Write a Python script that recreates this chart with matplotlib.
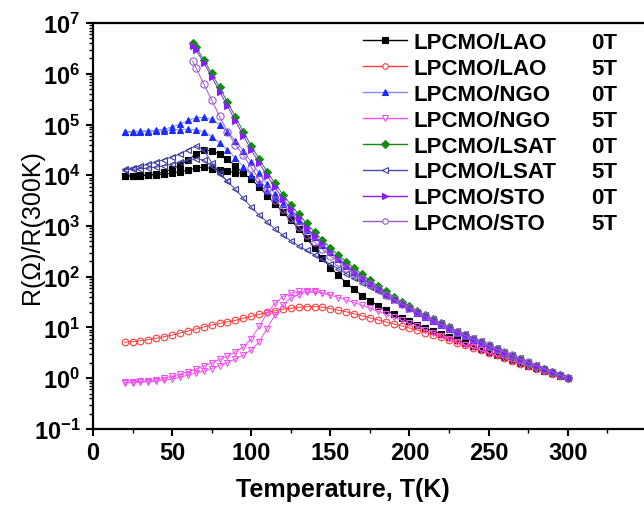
import matplotlib
matplotlib.use('Agg')
import matplotlib.pyplot as plt
import numpy as np
from matplotlib.ticker import LogLocator, FuncFormatter, NullFormatter
from matplotlib.lines import Line2D

# ---------------- data (values read as log10 of R/R(300K)) ----------------
T_full = list(range(20, 301, 5))              # 20 ... 300 K
T_steep = [63] + list(range(65, 301, 5))      # curves that start near 63 K

lao_0T_a = [3.99, 3.99, 4.00, 4.01, 4.03, 4.07, 4.12, 4.20, 4.30, 4.42,
            4.50, 4.48, 4.42, 4.32, 4.18, 4.04, 3.92, 3.77, 3.60, 3.44,
            3.28, 3.11, 2.95, 2.76, 2.56, 2.36, 2.18, 2.03, 1.88, 1.75,
            1.63, 1.53, 1.43, 1.35, 1.27, 1.19, 1.12, 1.05, 0.99, 0.93,
            0.87, 0.81, 0.75, 0.69, 0.63, 0.57, 0.52, 0.46, 0.41, 0.35,
            0.30, 0.25, 0.20, 0.15, 0.10, 0.05, 0.00]
T_lao_0T_b = list(range(20, 96, 5))
lao_0T_b = [3.98, 3.99, 3.99, 4.00, 4.01, 4.02, 4.04, 4.07, 4.10, 4.14,
            4.16, 4.13, 4.10, 4.08, 4.05, 4.04]

lao_5T = [0.71, 0.72, 0.74, 0.76, 0.79, 0.82, 0.85, 0.89, 0.93, 0.97,
          1.01, 1.05, 1.08, 1.11, 1.14, 1.18, 1.22, 1.26, 1.30, 1.33,
          1.36, 1.38, 1.40, 1.41, 1.41, 1.40, 1.37, 1.34, 1.31, 1.27,
          1.23, 1.19, 1.15, 1.11, 1.07, 1.03, 0.99, 0.95, 0.90, 0.86,
          0.81, 0.76, 0.70, 0.65, 0.60, 0.55, 0.50, 0.45, 0.40, 0.34,
          0.29, 0.24, 0.19, 0.14, 0.09, 0.05, 0.00]

ngo_0T_a = [4.86, 4.86, 4.87, 4.88, 4.89, 4.91, 4.95, 5.01, 5.08, 5.13,
            5.14, 5.10, 5.00, 4.86, 4.68, 4.48, 4.26, 4.04, 3.83, 3.63,
            3.44, 3.26, 3.09, 2.93, 2.78, 2.63, 2.49, 2.35, 2.22, 2.10,
            1.98, 1.87, 1.76, 1.66, 1.56, 1.47, 1.38, 1.29, 1.21, 1.13,
            1.05, 0.97, 0.90, 0.83, 0.76, 0.69, 0.63, 0.56, 0.50, 0.43,
            0.37, 0.31, 0.25, 0.18, 0.12, 0.06, 0.00]
T_ngo_0T_b = list(range(20, 121, 5))
ngo_0T_b = [4.85, 4.85, 4.86, 4.86, 4.87, 4.88, 4.89, 4.90, 4.91, 4.90,
            4.86, 4.76, 4.64, 4.50, 4.34, 4.17, 4.00, 3.84, 3.68, 3.55,
            3.44]

ngo_5T_a = [-0.08, -0.07, -0.06, -0.05, -0.03, 0.00, 0.04, 0.08, 0.13, 0.18,
            0.24, 0.30, 0.37, 0.44, 0.52, 0.62, 0.78, 1.02, 1.28, 1.48,
            1.61, 1.68, 1.71, 1.72, 1.71, 1.68, 1.64, 1.59, 1.54, 1.49,
            1.44, 1.38, 1.32, 1.26, 1.20, 1.14, 1.08, 1.02, 0.96, 0.90,
            0.84, 0.78, 0.72, 0.66, 0.61, 0.55, 0.50, 0.45, 0.40, 0.34,
            0.29, 0.24, 0.19, 0.14, 0.09, 0.05, 0.00]
T_ngo_5T_b = list(range(20, 151, 5))
ngo_5T_b = [-0.09, -0.09, -0.08, -0.07, -0.06, -0.04, -0.01, 0.02, 0.06, 0.10,
            0.14, 0.19, 0.25, 0.31, 0.38, 0.46, 0.56, 0.72, 0.98, 1.25,
            1.45, 1.58, 1.65, 1.69, 1.70, 1.68, 1.64]

lsat_0T = [6.60, 6.52, 6.28, 6.01, 5.73, 5.44, 5.15, 4.86, 4.58, 4.32,
           4.07, 3.84, 3.62, 3.42, 3.23, 3.05, 2.88, 2.72, 2.57, 2.43,
           2.30, 2.17, 2.05, 1.93, 1.82, 1.71, 1.61, 1.51, 1.42, 1.33,
           1.24, 1.16, 1.08, 1.00, 0.92, 0.85, 0.78, 0.71, 0.64, 0.57,
           0.50, 0.44, 0.37, 0.31, 0.25, 0.19, 0.12, 0.06, 0.00]

lsat_5T_a = [4.12, 4.15, 4.18, 4.22, 4.26, 4.31, 4.36, 4.42, 4.50, 4.58,
             4.50, 4.25, 4.05, 3.88, 3.72, 3.55, 3.37, 3.22, 3.08, 2.94,
             2.82, 2.71, 2.61, 2.52, 2.43, 2.34, 2.25, 2.16, 2.06, 1.97,
             1.88, 1.79, 1.71, 1.63, 1.55, 1.47, 1.39, 1.31, 1.24, 1.16,
             1.09, 1.01, 0.94, 0.87, 0.80, 0.73, 0.66, 0.59, 0.52, 0.45,
             0.39, 0.32, 0.26, 0.19, 0.13, 0.06, 0.00]
T_lsat_5T_b = list(range(20, 86, 5))
lsat_5T_b = [4.11, 4.12, 4.13, 4.14, 4.16, 4.19, 4.22, 4.26, 4.30, 4.33,
             4.30, 4.18, 4.02, 3.88]

sto_0T = [6.55, 6.47, 6.22, 5.94, 5.65, 5.36, 5.07, 4.78, 4.50, 4.24,
          3.99, 3.76, 3.54, 3.34, 3.15, 2.97, 2.80, 2.64, 2.49, 2.35,
          2.22, 2.09, 1.97, 1.86, 1.75, 1.65, 1.55, 1.46, 1.37, 1.28,
          1.20, 1.12, 1.04, 0.97, 0.90, 0.83, 0.76, 0.69, 0.62, 0.56,
          0.49, 0.43, 0.36, 0.30, 0.24, 0.18, 0.12, 0.06, 0.00]

sto_5T = [6.25, 6.12, 5.80, 5.48, 5.16, 4.86, 4.60, 4.40, 4.15, 3.92,
          3.72, 3.52, 3.33, 3.15, 2.98, 2.82, 2.68, 2.54, 2.41, 2.29,
          2.17, 2.06, 1.95, 1.85, 1.75, 1.65, 1.56, 1.47, 1.38, 1.30,
          1.22, 1.14, 1.06, 0.99, 0.92, 0.85, 0.78, 0.72, 0.65, 0.58,
          0.52, 0.45, 0.38, 0.32, 0.25, 0.19, 0.13, 0.06, 0.00]

sample_names = ["LPCMO/LAO", "LPCMO/LAO", "LPCMO/NGO", "LPCMO/NGO",
                "LPCMO/LSAT", "LPCMO/LSAT", "LPCMO/STO", "LPCMO/STO"]
field_labels = ["0T", "5T", "0T", "5T", "0T", "5T", "0T", "5T"]

# ---------------- styling ----------------
plt.rcParams['font.family'] = ['Liberation Sans', 'DejaVu Sans']
plt.rcParams['mathtext.fontset'] = 'custom'
plt.rcParams['mathtext.rm'] = 'Liberation Sans:bold'
plt.rcParams['mathtext.bf'] = 'Liberation Sans:bold'
plt.rcParams['mathtext.it'] = 'Liberation Sans:bold'

# (branches, marker, marker face, marker edge, line colour, marker size)
styles = [
    ([(T_full, lao_0T_a), (T_lao_0T_b, lao_0T_b)], 's', 'black', 'black', 'black', 4.2),
    ([(T_full, lao_5T)], 'o', 'none', '#ff3b3b', '#ff3b3b', 4.8),
    ([(T_full, ngo_0T_a), (T_ngo_0T_b, ngo_0T_b)], '^', '#1c2cff', '#1c2cff', '#7f8cff', 4.6),
    ([(T_full, ngo_5T_a), (T_ngo_5T_b, ngo_5T_b)], 'v', 'none', '#f050f0', '#f050f0', 5.0),
    ([(T_steep, lsat_0T)], 'D', '#138a13', '#138a13', '#138a13', 4.0),
    ([(T_full, lsat_5T_a), (T_lsat_5T_b, lsat_5T_b)], '<', 'none', '#3c3c9e', '#4a4ab8', 5.0),
    ([(T_steep, sto_0T)], '>', '#8a1cff', '#8a1cff', '#8a1cff', 4.6),
    ([(T_steep, sto_5T)], 'o', 'none', '#9a5ad0', '#9a5ad0', 5.2),
]

fig = plt.figure(figsize=(6.44, 5.10), dpi=100)
ax = fig.add_axes([0.1444, 0.1569, 0.860, 0.796])

handles = []
for branches, mk, mfc, mec, lc, ms in styles:
    for T, lg in branches:
        ax.plot(T, 10 ** np.array(lg), color=lc, lw=0.7, marker=mk, ms=ms,
                mfc=mfc, mec=mec, mew=0.8)
    handles.append(Line2D([], [], color=lc, lw=1.0, marker=mk, ms=4.0,
                          mfc=('white' if mfc == 'none' else mfc), mec=mec, mew=0.8))

ax.set_yscale('log')
ax.set_ylim(0.1, 1e7)
ax.set_xlim(0, 350)
ax.set_xticks(range(0, 301, 50))
ax.set_xticks(np.arange(25, 350, 50), minor=True)
ax.yaxis.set_major_locator(LogLocator(base=10, numticks=20))
ax.yaxis.set_minor_locator(LogLocator(base=10, subs=np.arange(2, 10), numticks=200))
ax.yaxis.set_minor_formatter(NullFormatter())
ax.yaxis.set_major_formatter(FuncFormatter(
    lambda v, p: r'$\mathbf{10^{%d}}$' % int(round(np.log10(v)))))

for s in ax.spines.values():
    s.set_linewidth(1.6)
ax.tick_params(which='major', direction='out', length=5, width=1.5,
               labelsize=17, pad=4)
ax.tick_params(which='minor', direction='out', length=3, width=1.0)
for lab in ax.get_xticklabels():
    lab.set_fontweight('bold')

ax.set_xlabel('Temperature, T(K)', fontsize=18, fontweight='bold')
ax.xaxis.set_label_coords(0.452, -0.118)
ax.set_ylabel('R(Ω)/R(300K)', fontsize=18)
ax.yaxis.set_label_coords(-0.088, 0.5)

leg1 = ax.legend(handles, sample_names, loc='upper left',
                 bbox_to_anchor=(0.487, 0.978), frameon=False, borderpad=0,
                 borderaxespad=0, handlelength=2.0, handletextpad=0.3,
                 labelspacing=0.22, prop={'weight': 'bold', 'size': 16})
ax.add_artist(leg1)
blank = [Line2D([], [], linestyle='none') for _ in field_labels]
ax.legend(blank, field_labels, loc='upper left',
          bbox_to_anchor=(0.900, 0.978), frameon=False, borderpad=0,
          borderaxespad=0, handlelength=0, handletextpad=0,
          labelspacing=0.22, prop={'weight': 'bold', 'size': 16})

fig.savefig('out.png', dpi=100)
